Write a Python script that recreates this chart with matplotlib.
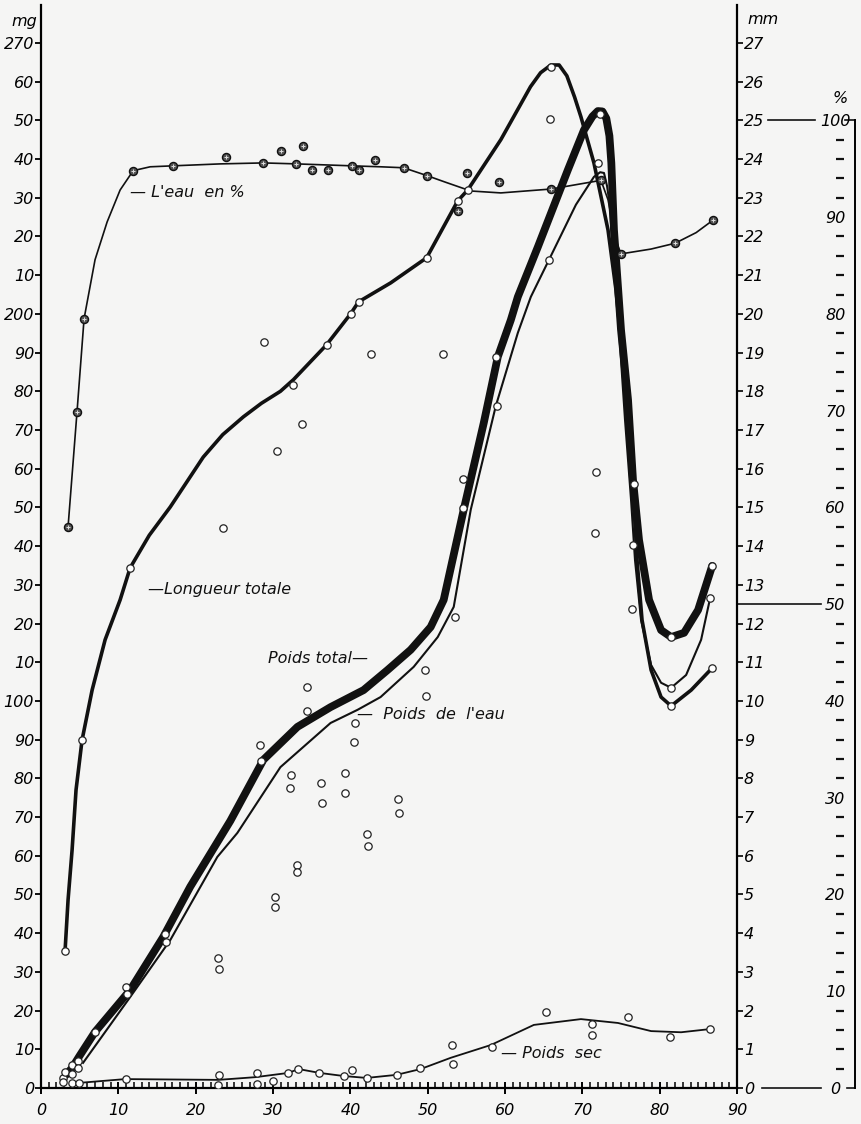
import matplotlib
matplotlib.use('Agg')
import matplotlib.pyplot as plt
import matplotlib.transforms as mtransforms
from matplotlib.ticker import FuncFormatter, MultipleLocator

plt.rcParams['font.family'] = ['DejaVu Sans']
plt.rcParams['font.style'] = 'italic'

# ---------------- data (x = days, y = mg; length in mg-scale = mm*10) ----------------
eau_pct_curve_x = [3.50, 4.66, 5.57, 6.99, 8.55, 10.23, 11.92, 14.12, 17.10, 23.19, 28.76, 33.03,
                   40.16, 43.91, 46.89, 49.87, 52.33, 55.57, 59.46, 65.93, 72.41, 73.32, 74.35,
                   75.00, 78.89, 82.00, 84.72, 86.92]
eau_pct_curve_y = [58.0, 69.9, 79.5, 85.6, 89.5, 92.8, 94.8, 95.2, 95.3, 95.5, 95.6, 95.5,
                   95.3, 95.2, 95.1, 94.3, 93.6, 92.7, 92.5, 92.9, 93.8, 91.8, 87.6,
                   86.2, 86.7, 87.3, 88.4, 89.7]
eau_pct_pts_x = [3.50, 4.66, 5.57, 11.92, 17.10, 23.96, 28.76, 31.09, 33.03, 33.94, 35.10, 37.05,
                 40.16, 41.06, 43.13, 46.89, 49.87, 53.89, 55.05, 59.20, 65.93, 72.41, 75.00,
                 82.00, 86.92]
eau_pct_pts_y = [58.0, 69.9, 79.5, 94.8, 95.3, 96.2, 95.6, 96.8, 95.5, 97.3, 94.9, 94.9,
                 95.3, 94.9, 95.9, 95.1, 94.3, 90.6, 94.6, 93.6, 92.9, 93.8, 86.2,
                 87.3, 89.7]

long_curve_x = [3.11, 3.50, 4.02, 4.53, 5.31, 6.61, 8.29, 10.23, 11.53, 14.0, 16.71, 20.98, 23.5,
                26.17, 28.5, 30.96, 32.64, 36.92, 40.03, 41.06, 45.21, 49.87, 53.89, 55.18, 59.46,
                63.3, 64.6, 65.93, 67.0, 68.0, 69.0, 69.82, 71.50, 73.32, 74.35, 75.26, 76.04,
                76.68, 77.07, 77.72, 78.89, 80.18, 81.48, 84.07, 86.79]
long_curve_y = [35.4, 48.6, 61.5, 77.0, 89.9, 102.8, 115.8, 126.1, 134.4, 142.8, 150.1, 163.0, 168.8,
                173.4, 176.9, 180.0, 183.0, 192.0, 200.0, 203.1, 208.0, 214.5, 229.2, 232.0, 245.0,
                258.7, 262.3, 264.3, 264.3, 261.5, 256.0, 250.9, 239.0, 221.7, 206.2, 188.1, 167.4,
                151.9, 136.4, 120.9, 108.0, 101.0, 98.7, 102.8, 108.5]
long_pts_x = [3.11, 5.31, 11.53, 23.58, 28.89, 30.57, 32.64, 33.81, 36.92, 40.03, 41.06, 42.62,
              49.87, 51.94, 53.89, 55.18, 65.93, 71.63, 71.76, 81.48, 86.79]
long_pts_y = [35.4, 89.9, 134.4, 144.7, 192.8, 164.6, 181.7, 171.6, 192.0, 200.0, 203.1, 189.7,
              214.5, 189.7, 229.2, 232.0, 263.8, 143.4, 159.2, 98.7, 108.5]

total_curve_x = [3.24, 4.02, 5.05, 6.99, 11.53, 15.80, 19.30, 21.89, 24.48, 28.76, 33.16, 37.44,
                 41.71, 44.82, 47.80, 50.39, 52.07, 54.66, 57.25, 59.07, 60.75, 61.66, 64.25,
                 68.13, 70.21, 71.3, 72.0, 72.6, 73.1, 73.5, 73.75, 74.09, 75.0, 75.91, 76.55,
                 77.33, 78.63, 80.18, 81.48, 83.16, 84.97, 86.79]
total_curve_y = [3.4, 5.2, 8.5, 14.5, 25.3, 39.0, 52.0, 60.5, 69.0, 84.8, 93.3, 98.4,
                 102.8, 108.0, 113.2, 119.1, 126.1, 149.4, 171.8, 188.9, 198.4, 204.4, 217.3,
                 237.2, 247.5, 251.0, 252.4, 252.3, 250.5, 246.0, 239.0, 221.7, 195.9, 177.8, 157.1,
                 141.6, 126.1, 118.3, 116.5, 117.6, 123.5, 134.9]

water_curve_x = [5.44, 11.53, 16.71, 22.80, 25.39, 30.96, 37.44, 40.93, 43.91, 48.19, 51.30, 53.37,
                 55.57, 58.81, 61.66, 63.34, 65.67, 69.17, 71.50, 72.3, 72.80, 73.2, 73.45, 74.09,
                 74.74, 75.52, 76.30, 76.81, 77.59, 78.89, 80.18, 81.48, 83.42, 85.36, 86.53]
water_curve_y = [6.5, 23.5, 38.2, 59.7, 65.9, 82.9, 94.3, 97.7, 101.0, 108.8, 116.5, 124.3,
                 149.4, 176.2, 195.1, 204.4, 213.9, 228.2, 235.4, 236.6, 236.4, 233.0, 229.5, 213.9,
                 195.9, 172.6, 151.9, 136.4, 120.9, 109.3, 104.7, 103.4, 106.7, 115.8, 126.6]

weight_pts_x = [2.85, 3.11, 4.02, 4.79, 4.02, 4.79, 6.99, 11.01, 11.14, 16.06, 16.19, 22.93, 23.06,
                30.31, 30.31, 33.16, 33.16, 28.37, 28.50, 32.38, 32.25, 34.46, 34.46, 36.27, 36.40,
                39.25, 39.25, 40.54, 40.41, 42.10, 42.23, 46.11, 46.24, 49.61, 49.74, 53.50, 54.53,
                54.53, 58.81, 58.94, 65.67, 65.80, 72.28, 72.02, 76.68, 76.55, 76.42, 81.48, 81.48,
                86.79, 86.53]
weight_pts_y = [2.6, 4.1, 5.9, 7.0, 3.6, 5.2, 14.5, 26.1, 24.3, 39.8, 37.7, 33.6, 30.7,
                49.4, 46.8, 57.6, 55.8, 88.6, 84.5, 80.9, 77.5, 103.6, 97.4, 78.8, 73.6,
                81.4, 76.2, 94.3, 89.4, 65.6, 62.5, 74.7, 71.1, 108.0, 101.3, 121.7, 157.4,
                149.9, 188.9, 176.2, 213.9, 250.4, 251.7, 239.0, 156.1, 140.3, 123.8, 116.5, 103.4,
                134.9, 126.6]

dry_curve_x = [4.79, 10.88, 22.93, 27.72, 32.00, 33.29, 36.01, 39.12, 42.10, 45.98, 49.09, 52.98,
               58.16, 63.73, 69.82, 74.61, 78.89, 82.77, 86.40]
dry_curve_y = [1.3, 2.3, 2.1, 2.8, 3.9, 4.9, 3.9, 3.1, 2.6, 3.4, 4.9, 7.8,
               11.1, 16.3, 17.8, 16.8, 14.7, 14.4, 15.2]
dry_pts_x = [2.85, 4.02, 4.92, 11.01, 23.06, 22.93, 27.98, 27.98, 30.05, 32.00, 33.29, 36.01, 39.12,
             40.16, 42.10, 45.98, 48.96, 53.11, 53.24, 58.29, 65.28, 71.24, 71.24, 75.91, 81.35, 86.53]
dry_pts_y = [1.6, 1.3, 1.3, 2.3, 3.4, 0.8, 3.9, 1.0, 1.8, 3.9, 4.9, 3.9, 3.1,
             4.7, 2.6, 3.4, 5.2, 11.1, 6.2, 10.6, 19.6, 16.5, 13.7, 18.3, 13.2, 15.2]

mg_ticks = list(range(0, 271, 10))
mm_ticks = list(range(0, 28))
pct_ticks = list(range(0, 101, 10))
pct_minor = [p for p in range(2, 100, 2) if p % 10 != 0]
x_ticks = list(range(0, 91, 10))

PCT_TO_MG = 2.5          # 100 % is drawn at 250 mg (25 mm)
YMAX = 279.8

# ---------------- figure ----------------
bg = '#f5f5f4'
fig = plt.figure(figsize=(8.61, 11.24), dpi=100)
fig.patch.set_facecolor(bg)
ax = fig.add_axes([41/861, 36/1124, 696/861, 1083/1124])
ax.set_facecolor('none')
ax.set_xlim(0, 90)
ax.set_ylim(0, YMAX)

ink = '#111111'
tick_fs = 11.5

# curves
ax.plot(total_curve_x, total_curve_y, color=ink, lw=5.6, solid_capstyle='round',
        solid_joinstyle='round', zorder=3)
ax.plot(water_curve_x, water_curve_y, color=ink, lw=1.5, solid_joinstyle='round', zorder=3)
ax.plot(long_curve_x, long_curve_y, color=ink, lw=2.6, solid_capstyle='round',
        solid_joinstyle='round', zorder=3)
ax.plot(dry_curve_x, dry_curve_y, color=ink, lw=1.3, zorder=3)
ax.plot(eau_pct_curve_x, [v * PCT_TO_MG for v in eau_pct_curve_y], color=ink, lw=1.2, zorder=3)

# points
circ = dict(marker='o', ms=5.3, mfc='white', mec='#222222', mew=0.9, ls='none', zorder=5)
ax.plot(weight_pts_x, weight_pts_y, **circ)
ax.plot(long_pts_x, long_pts_y, **circ)
ax.plot(dry_pts_x, dry_pts_y, **circ)
ax.plot(eau_pct_pts_x, [v * PCT_TO_MG for v in eau_pct_pts_y], marker='o', ms=5.8,
        mfc='#555555', mec='#111111', mew=1.0, ls='none', zorder=5)
ax.plot(eau_pct_pts_x, [v * PCT_TO_MG for v in eau_pct_pts_y], marker='+', ms=3.5,
        mec='#dddddd', mew=0.7, ls='none', zorder=6)

# labels of curves
lab = dict(fontsize=11.5, style='italic', color=ink, zorder=7)
ax.text(11.5, 231.3, "\u2014 L'eau  en %", va='center', ha='left', **lab)
ax.text(13.9, 128.7, "\u2014Longueur totale", va='center', ha='left', **lab)
ax.text(29.4, 110.9, "Poids total\u2014", va='center', ha='left', **lab)
ax.text(40.9, 96.6, "\u2014  Poids  de  l'eau", va='center', ha='left', **lab)
ax.text(59.5, 9.0, "\u2014 Poids  sec", va='center', ha='left', **lab)

# ---------------- left mg axis ----------------
for s in ['top', 'right']:
    ax.spines[s].set_visible(False)
ax.spines['left'].set_linewidth(1.6)
ax.spines['bottom'].set_linewidth(1.6)
ax.set_yticks(mg_ticks)
ax.yaxis.set_major_formatter(FuncFormatter(
    lambda v, p: str(int(round(v))) if (int(round(v)) % 100 == 0 or int(round(v)) == 270)
    else str(int(round(v)) % 100)))
ax.tick_params(axis='y', direction='out', length=4, width=1.3, labelsize=tick_fs, pad=1)
ax.set_xticks(x_ticks)
ax.xaxis.set_minor_locator(MultipleLocator(1))
ax.tick_params(axis='x', which='major', direction='inout', length=9, width=1.4,
               labelsize=tick_fs, pad=6)
ax.tick_params(axis='x', which='minor', direction='in', length=4, width=1.1)
ax.text(-2.1, 275.5, 'mg', ha='center', va='center', fontsize=tick_fs, style='italic')

# ---------------- mm axis ----------------
ax2 = ax.twinx()
ax2.set_ylim(0, YMAX / 10)
for s in ['top', 'left', 'bottom']:
    ax2.spines[s].set_visible(False)
ax2.spines['right'].set_linewidth(1.6)
ax2.set_yticks(mm_ticks)
ax2.tick_params(axis='y', direction='out', length=4, width=1.2, labelsize=tick_fs, pad=1)
ax.text(93.4, 276.0, 'mm', ha='center', va='center', fontsize=tick_fs, style='italic',
        clip_on=False)

# ---------------- % axis ----------------
ax3 = ax.twinx()
ax3.set_ylim(0, YMAX / PCT_TO_MG)
for s in ['top', 'left', 'bottom']:
    ax3.spines[s].set_visible(False)
ax3.spines['right'].set_position(('axes', 1.170))
ax3.spines['right'].set_bounds(0, 100)
ax3.spines['right'].set_linewidth(1.4)
ax3.set_yticks(pct_ticks)
ax3.tick_params(axis='y', direction='in', length=0, labelsize=tick_fs, pad=-14.5)
for t in ax3.get_yticklabels():
    t.set_ha('center')
blend = mtransforms.blended_transform_factory(ax3.transAxes, ax3.transData)
ax3.plot([1.148] * len(pct_minor), pct_minor, marker='_', ms=6, mew=1.6, color=ink,
         ls='none', transform=blend, clip_on=False)
ax3.text(1.148, 102.3, '%', transform=blend, ha='center', va='center', fontsize=tick_fs,
         style='italic')

# connector lines between mm axis and % axis
conn = dict(color=ink, lw=1.2, clip_on=False, zorder=2)
ax.plot([94.0, 100.1], [250, 250], **conn)
ax.plot([104.0, 105.3], [250, 250], **conn)
ax.plot([90.0, 100.9], [125, 125], **conn)
ax.plot([93.2, 100.9], [0, 0], **conn)
ax.plot([104.2, 105.3], [0, 0], **conn)

fig.savefig('out.png', dpi=100, facecolor=bg)
